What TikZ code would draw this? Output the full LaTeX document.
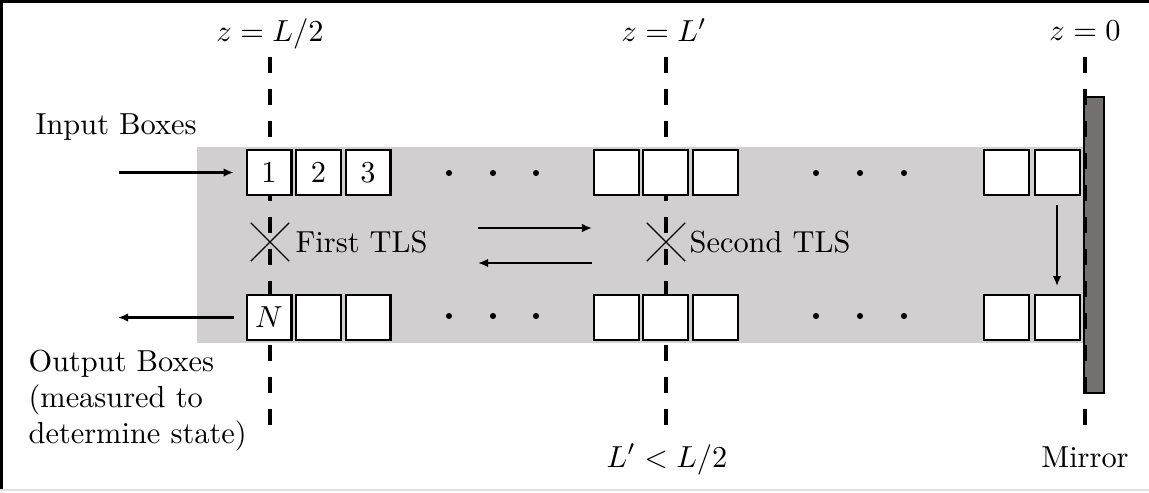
\documentclass[tikz,border=0pt]{standalone}
\usetikzlibrary{arrows.meta,shapes.misc}
\definecolor{bggray}{HTML}{D1CFD0}
\definecolor{mirrorgray}{HTML}{747070}
\begin{document}
\begin{tikzpicture}[x=0.329pt,y=-0.329pt,
  cell/.style={draw,fill=white,line width=0.66pt,minimum size=14.8pt,inner sep=0pt},
  zline/.style={line width=1.48pt,dash pattern=on 5.26pt off 5.26pt},
  arr/.style={line width=0.7pt,-{Latex[length=3.3pt,width=2.8pt]}},
  tls/.style={cross out,draw,line width=0.4pt,minimum size=12.2pt,inner sep=0pt},
  lbl/.style={inner sep=0pt},
  mirrorbox/.style={draw,fill=mirrorgray,line width=0.5pt,minimum width=6.6pt,minimum height=97.4pt,inner sep=0pt}]
\useasboundingbox (0,0) rectangle (1149,492);
% frame
\draw[line width=1pt] (0,1.5) -- (1149,1.5);
\draw[line width=1pt] (1.5,0) -- (1.5,490);
\draw[black!12,line width=0.6pt] (0,490) -- (1149,490);
% grey band
\fill[bggray] (197,147) rectangle (1084,343);
% dashed lines
\coordinate (d1t) at (270,57); \coordinate (d1b) at (270,427);
\coordinate (d2t) at (666,57); \coordinate (d2b) at (666,427);
\coordinate (d3t) at (1085,57); \coordinate (d3b) at (1085,427);
\draw[zline] (d1t) -- (d1b);
\draw[zline] (d2t) -- (d2b);
% mirror
\node[mirrorbox] (mirror) at (1094,245) {};
\draw[zline] (d3t) -- (d3b);
% top row boxes
\node[cell] (t1) at (269,172.5) {1};
\node[cell] (t2) at (318.5,172.5) {2};
\node[cell] (t3) at (368,172.5) {3};
\node[cell] (t4) at (616,172.5) {};
\node[cell] (t5) at (665.5,172.5) {};
\node[cell] (t6) at (715,172.5) {};
\node[cell] (t7) at (1006.5,172.5) {};
\node[cell] (t8) at (1057,172.5) {};
% bottom row boxes
\node[cell] (b1) at (269,317.5) {$N$};
\node[cell] (b2) at (318.5,317.5) {};
\node[cell] (b3) at (368,317.5) {};
\node[cell] (b4) at (616,317.5) {};
\node[cell] (b5) at (665.5,317.5) {};
\node[cell] (b6) at (715,317.5) {};
\node[cell] (b7) at (1006.5,317.5) {};
\node[cell] (b8) at (1057,317.5) {};
% dots
\foreach \x in {449,493,536,816,860,904}{
  \fill (\x,173) circle (1pt);
  \fill (\x,316) circle (1pt);
}
% TLS crosses
\node[tls] (x1) at (270,242) {};
\node[tls] (x2) at (666,242) {};
% arrows
\coordinate (inS) at (119,172.5);
\coordinate (outE) at (118,317.5);
\draw[arr,shorten >=3.9pt] (inS) -- (t1.west);
\draw[arr,shorten <=3.9pt] (b1.west) -- (outE);
\coordinate (r1s) at (478,228); \coordinate (r1e) at (592,228);
\coordinate (l1s) at (592,263); \coordinate (l1e) at (478,263);
\draw[arr] (r1s) -- (r1e);
\draw[arr] (l1s) -- (l1e);
\draw[arr,shorten <=3pt,shorten >=2.6pt] (t8.south) -- (b8.north);
% labels
\node[lbl,anchor=base] (zA) at (270,42) {$z=L/2$};
\node[lbl,anchor=base] (zB) at (664,42) {$z=L'$};
\node[lbl,anchor=base] (zC) at (1085,41) {$z=0$};
\node[lbl,anchor=base west] (inlbl) at (35,135) {Input Boxes};
\node[lbl,anchor=north west,align=left] (outlbl) at (28,349) {Output Boxes\\(measured to\\determine state)};
\node[lbl,anchor=base west] (tls1) at (295,252) {First TLS};
\node[lbl,anchor=base west] (tls2) at (689,252) {Second TLS};
\node[lbl,anchor=base] (cond) at (667,467) {$L'<L/2$};
\node[lbl,anchor=base] (mlbl) at (1085,467) {Mirror};
\end{tikzpicture}
\end{document}
